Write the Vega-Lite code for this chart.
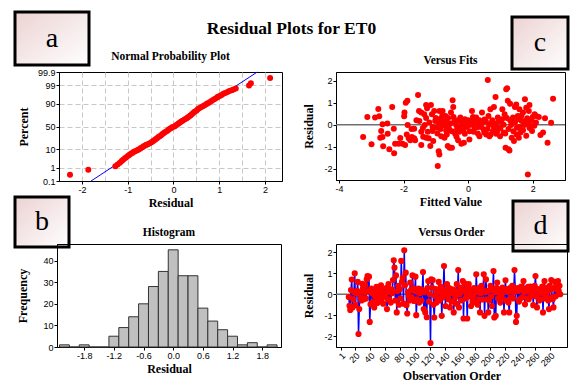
{
  "$schema": "https://vega.github.io/schema/vega-lite/v6.json",
  "padding": {"left": 13, "top": 10, "right": 0, "bottom": 0},
  "background": "white",
  "title": {"text": "Residual Plots for ET0", "font": "Liberation Serif", "fontSize": 17.5, "fontWeight": "bold", "anchor": "middle", "frame": "bounds", "offset": -27, "color": "#000"},
  "config": {
    "locale": {"number": {"decimal": ".", "thousands": ",", "grouping": [3], "currency": ["$", ""], "minus": "-"}},
    "font": "Liberation Sans",
    "view": {"stroke": "#000", "strokeWidth": 1},
    "axis": {"labelFont": "Liberation Sans", "labelFontSize": 9, "labelColor": "#000", "titleFont": "Liberation Serif", "titleFontSize": 12, "titleFontWeight": "bold", "titleColor": "#000", "domainColor": "#000", "tickColor": "#000", "tickSize": 3, "grid": false, "labelPadding": 1, "tickCount": 100, "labelOverlap": false},
    "axisX": {"titlePadding": 3},
    "axisY": {"titlePadding": 9},
    "title": {"font": "Liberation Serif", "fontSize": 11.5, "fontWeight": "bold", "color": "#000", "offset": 6}
  },
  "datasets": {
    "fitline": [{"r1": -1.80, "z1": -3.09, "r2": 1.83, "z2": 3.09}],
    "npp": [
      {"residual": -2.26, "z": -2.73}, {"residual": -1.86, "z": -2.45}, {"residual": -1.27, "z": -2.26}, {"residual": -1.22, "z": -2.15},
      {"residual": -1.17, "z": -2.05}, {"residual": -1.13, "z": -1.96}, {"residual": -1.10, "z": -1.88}, {"residual": -1.06, "z": -1.80},
      {"residual": -1.03, "z": -1.74}, {"residual": -0.99, "z": -1.66}, {"residual": -0.96, "z": -1.60}, {"residual": -0.93, "z": -1.55},
      {"residual": -0.90, "z": -1.50}, {"residual": -0.87, "z": -1.45}, {"residual": -0.84, "z": -1.40}, {"residual": -0.80, "z": -1.36},
      {"residual": -0.77, "z": -1.32}, {"residual": -0.74, "z": -1.27}, {"residual": -0.71, "z": -1.22}, {"residual": -0.68, "z": -1.17},
      {"residual": -0.65, "z": -1.12}, {"residual": -0.62, "z": -1.08}, {"residual": -0.59, "z": -1.04}, {"residual": -0.56, "z": -1.00},
      {"residual": -0.52, "z": -0.95}, {"residual": -0.48, "z": -0.90}, {"residual": -0.45, "z": -0.84}, {"residual": -0.42, "z": -0.78},
      {"residual": -0.39, "z": -0.72}, {"residual": -0.36, "z": -0.66}, {"residual": -0.33, "z": -0.60}, {"residual": -0.30, "z": -0.55},
      {"residual": -0.27, "z": -0.49}, {"residual": -0.24, "z": -0.43}, {"residual": -0.21, "z": -0.37}, {"residual": -0.18, "z": -0.31},
      {"residual": -0.14, "z": -0.25}, {"residual": -0.11, "z": -0.19}, {"residual": -0.08, "z": -0.13}, {"residual": -0.05, "z": -0.08},
      {"residual": -0.02, "z": -0.03}, {"residual": 0.02, "z": 0.0}, {"residual": 0.05, "z": 0.06}, {"residual": 0.08, "z": 0.11},
      {"residual": 0.11, "z": 0.17}, {"residual": 0.14, "z": 0.23}, {"residual": 0.17, "z": 0.28}, {"residual": 0.20, "z": 0.33},
      {"residual": 0.24, "z": 0.39}, {"residual": 0.28, "z": 0.45}, {"residual": 0.31, "z": 0.51}, {"residual": 0.34, "z": 0.57},
      {"residual": 0.37, "z": 0.63}, {"residual": 0.40, "z": 0.70}, {"residual": 0.43, "z": 0.76}, {"residual": 0.46, "z": 0.83},
      {"residual": 0.50, "z": 0.90}, {"residual": 0.53, "z": 0.98}, {"residual": 0.56, "z": 1.03}, {"residual": 0.60, "z": 1.09},
      {"residual": 0.64, "z": 1.15}, {"residual": 0.68, "z": 1.21}, {"residual": 0.72, "z": 1.27}, {"residual": 0.75, "z": 1.32},
      {"residual": 0.79, "z": 1.38}, {"residual": 0.83, "z": 1.45}, {"residual": 0.87, "z": 1.52}, {"residual": 0.91, "z": 1.58},
      {"residual": 0.95, "z": 1.64}, {"residual": 0.97, "z": 1.68}, {"residual": 1.01, "z": 1.73}, {"residual": 1.05, "z": 1.79},
      {"residual": 1.09, "z": 1.85}, {"residual": 1.13, "z": 1.90}, {"residual": 1.18, "z": 1.96}, {"residual": 1.22, "z": 2.01},
      {"residual": 1.27, "z": 2.06}, {"residual": 1.31, "z": 2.10}, {"residual": 1.36, "z": 2.15}, {"residual": 1.65, "z": 2.33},
      {"residual": 1.69, "z": 2.45}, {"residual": 2.11, "z": 2.75}
    ],
    "hist": [
      {"lo": -2.3, "hi": -2.1, "count": 1}, {"lo": -2.1, "hi": -1.9, "count": 0}, {"lo": -1.9, "hi": -1.7, "count": 1},
      {"lo": -1.7, "hi": -1.5, "count": 0}, {"lo": -1.5, "hi": -1.3, "count": 0}, {"lo": -1.3, "hi": -1.1, "count": 5},
      {"lo": -1.1, "hi": -0.9, "count": 9}, {"lo": -0.9, "hi": -0.7, "count": 14}, {"lo": -0.7, "hi": -0.5, "count": 20},
      {"lo": -0.5, "hi": -0.3, "count": 28}, {"lo": -0.3, "hi": -0.1, "count": 35}, {"lo": -0.1, "hi": 0.1, "count": 45},
      {"lo": 0.1, "hi": 0.3, "count": 33}, {"lo": 0.3, "hi": 0.5, "count": 33}, {"lo": 0.5, "hi": 0.7, "count": 18},
      {"lo": 0.7, "hi": 0.9, "count": 12}, {"lo": 0.9, "hi": 1.1, "count": 8}, {"lo": 1.1, "hi": 1.3, "count": 5},
      {"lo": 1.3, "hi": 1.5, "count": 1}, {"lo": 1.5, "hi": 1.7, "count": 2}, {"lo": 1.7, "hi": 1.9, "count": 0},
      {"lo": 1.9, "hi": 2.1, "count": 1}
    ],
    "fits": [
      {"f": -3.25, "r": -0.56}, {"f": -3.12, "r": 0.35}, {"f": -2.99, "r": -0.89}, {"f": -2.88, "r": 0.32}, {"f": -2.78, "r": 0.71},
      {"f": -2.75, "r": 0.38}, {"f": -2.72, "r": -0.59}, {"f": -2.69, "r": -0.29}, {"f": -2.65, "r": 0.02}, {"f": -2.63, "r": -0.98},
      {"f": -2.65, "r": -0.56}, {"f": -2.49, "r": -0.41}, {"f": -2.44, "r": -1.12}, {"f": -2.35, "r": 0.80}, {"f": -2.30, "r": -0.18},
      {"f": -2.29, "r": -1.30}, {"f": -2.26, "r": -0.86}, {"f": -2.15, "r": -0.86}, {"f": -2.03, "r": -0.86}, {"f": -1.98, "r": 0.38},
      {"f": -1.95, "r": -0.92}, {"f": -1.93, "r": 1.0}, {"f": -1.88, "r": 1.08}, {"f": -1.97, "r": 0.55}, {"f": -1.87, "r": -0.02},
      {"f": -1.84, "r": -0.62}, {"f": -1.79, "r": -0.71}, {"f": -1.74, "r": -0.56}, {"f": -1.67, "r": -0.18}, {"f": -1.67, "r": -0.62},
      {"f": -1.64, "r": -0.71}, {"f": -1.55, "r": 1.35}, {"f": -1.52, "r": 0.62}, {"f": -1.51, "r": 0.17}, {"f": -1.45, "r": 0.55},
      {"f": -1.45, "r": -0.92}, {"f": -1.45, "r": -0.32}, {"f": -1.39, "r": -0.55}, {"f": -1.36, "r": 0.47}, {"f": -1.34, "r": -0.02},
      {"f": -1.30, "r": 0.89}, {"f": -1.27, "r": 0.74}, {"f": -1.30, "r": -0.59}, {"f": -1.25, "r": -0.32}, {"f": -1.22, "r": -0.62},
      {"f": -1.17, "r": -0.97}, {"f": -1.15, "r": 0.89}, {"f": -1.12, "r": 0.47}, {"f": -1.10, "r": -0.29}, {"f": -1.08, "r": -0.74},
      {"f": -1.05, "r": 0.62}, {"f": -1.02, "r": 0.17}, {"f": -0.97, "r": -0.14}, {"f": -0.94, "r": -1.88}, {"f": -0.91, "r": -1.20},
      {"f": -0.89, "r": -1.35}, {"f": -0.89, "r": 0.62}, {"f": -0.85, "r": 0.27}, {"f": -0.83, "r": -0.52}, {"f": -0.79, "r": 0.62},
      {"f": -0.77, "r": -0.02}, {"f": -0.73, "r": -0.59}, {"f": -0.70, "r": 0.39}, {"f": -0.68, "r": -0.26}, {"f": -0.65, "r": 0.09},
      {"f": -0.63, "r": -0.97}, {"f": -0.60, "r": -0.14}, {"f": -0.57, "r": -1.05}, {"f": -0.53, "r": 0.55}, {"f": -0.50, "r": -1.05},
      {"f": -0.48, "r": 1.11}, {"f": -0.46, "r": 0.80}, {"f": -0.42, "r": 0.20}, {"f": -0.40, "r": -0.41}, {"f": -0.37, "r": -0.02},
      {"f": -0.34, "r": -0.21}, {"f": -0.31, "r": -0.71}, {"f": -0.27, "r": -0.32}, {"f": -0.24, "r": 0.32}, {"f": -0.21, "r": -0.86},
      {"f": -0.17, "r": -0.02}, {"f": -0.13, "r": -0.82}, {"f": -0.10, "r": -0.41}, {"f": -0.06, "r": 0.09}, {"f": -0.01, "r": -0.06},
      {"f": 0.04, "r": -0.67}, {"f": 0.09, "r": 0.17}, {"f": 0.12, "r": 0.62}, {"f": 0.17, "r": -0.32}, {"f": 0.20, "r": 0.09},
      {"f": 0.25, "r": 0.32}, {"f": 0.30, "r": -0.11}, {"f": 0.35, "r": -0.52}, {"f": 0.40, "r": 0.09}, {"f": 0.43, "r": 0.55},
      {"f": 0.48, "r": -0.21}, {"f": 0.51, "r": 0.24}, {"f": 0.56, "r": -0.44}, {"f": 0.61, "r": 2.03}, {"f": 0.63, "r": 0.39},
      {"f": 0.66, "r": -0.52}, {"f": 0.69, "r": 0.70}, {"f": 0.72, "r": 0.05}, {"f": 0.77, "r": -0.29}, {"f": 0.80, "r": 0.80},
      {"f": 0.83, "r": -0.06}, {"f": 0.85, "r": 1.26}, {"f": 0.87, "r": -0.41}, {"f": 0.92, "r": 0.32}, {"f": 0.95, "r": -0.14},
      {"f": 0.99, "r": -0.52}, {"f": 1.02, "r": 0.14}, {"f": 1.06, "r": 0.70}, {"f": 1.10, "r": -0.36}, {"f": 1.13, "r": 0.47},
      {"f": 1.16, "r": -1.05}, {"f": 1.18, "r": 1.61}, {"f": 1.21, "r": 1.65}, {"f": 1.23, "r": 1.08}, {"f": 1.25, "r": -1.12},
      {"f": 1.28, "r": -1.17}, {"f": 1.30, "r": 0.95}, {"f": 1.33, "r": -0.02}, {"f": 1.35, "r": -0.59}, {"f": 1.39, "r": 0.32},
      {"f": 1.42, "r": -0.74}, {"f": 1.45, "r": 0.80}, {"f": 1.49, "r": 0.92}, {"f": 1.51, "r": -0.14}, {"f": 1.54, "r": 0.39},
      {"f": 1.57, "r": -0.59}, {"f": 1.59, "r": 0.70}, {"f": 1.62, "r": -0.36}, {"f": 1.66, "r": 0.17}, {"f": 1.70, "r": 0.55},
      {"f": 1.74, "r": -0.02}, {"f": 1.76, "r": 1.15}, {"f": 1.80, "r": 0.77}, {"f": 1.83, "r": 0.29}, {"f": 1.85, "r": -2.26},
      {"f": 1.88, "r": 0.62}, {"f": 1.90, "r": 0.89}, {"f": 1.95, "r": -0.06}, {"f": 1.98, "r": -0.29}, {"f": 2.00, "r": 0.35},
      {"f": 2.06, "r": 0.47}, {"f": 2.11, "r": 0.39}, {"f": 2.19, "r": 0.35}, {"f": 2.24, "r": -0.47}, {"f": 2.32, "r": -0.36},
      {"f": 2.38, "r": 0.29}, {"f": 2.46, "r": -0.82}, {"f": 2.57, "r": 0.09}, {"f": 2.63, "r": 1.18},
      {"f": -1.2, "r": 0.1}, {"f": -1.1, "r": -0.1}, {"f": -1.0, "r": 0.3}, {"f": -0.95, "r": -0.4}, {"f": -0.9, "r": 0.05},
      {"f": -0.85, "r": -0.2}, {"f": -0.8, "r": 0.4}, {"f": -0.75, "r": 0.15}, {"f": -0.7, "r": -0.05}, {"f": -0.66, "r": -0.45},
      {"f": -0.62, "r": 0.3}, {"f": -0.58, "r": -0.25}, {"f": -0.55, "r": 0.05}, {"f": -0.5, "r": -0.3}, {"f": -0.45, "r": 0.35},
      {"f": -0.4, "r": 0.1}, {"f": -0.36, "r": -0.55}, {"f": -0.3, "r": 0.2}, {"f": -0.25, "r": -0.1}, {"f": -0.2, "r": 0.1},
      {"f": -0.15, "r": -0.25}, {"f": -0.1, "r": 0.25}, {"f": -0.05, "r": -0.1}, {"f": 0.0, "r": 0.2}, {"f": 0.05, "r": -0.3},
      {"f": 0.1, "r": 0.0}, {"f": 0.15, "r": 0.35}, {"f": 0.2, "r": -0.15}, {"f": 0.25, "r": 0.05}, {"f": 0.3, "r": -0.4},
      {"f": 0.35, "r": 0.2}, {"f": 0.4, "r": -0.1}, {"f": 0.45, "r": 0.1}, {"f": 0.5, "r": -0.35}, {"f": 0.55, "r": 0.15},
      {"f": 0.6, "r": -0.2}, {"f": 0.65, "r": 0.0}, {"f": 0.7, "r": -0.45}, {"f": 0.75, "r": 0.2}, {"f": 0.8, "r": -0.1},
      {"f": 0.85, "r": 0.05}, {"f": 0.9, "r": -0.3}, {"f": 0.95, "r": 0.15}, {"f": 1.0, "r": -0.15}, {"f": 1.05, "r": 0.25},
      {"f": 1.1, "r": 0.0}, {"f": 1.15, "r": -0.4}, {"f": 1.2, "r": 0.3}, {"f": 1.25, "r": -0.2}, {"f": 1.3, "r": 0.2},
      {"f": 1.35, "r": 0.05}, {"f": 1.4, "r": -0.3}, {"f": 1.45, "r": 0.1}, {"f": 1.5, "r": -0.45}, {"f": 1.55, "r": 0.25},
      {"f": 1.6, "r": -0.1}, {"f": 1.65, "r": 0.4}, {"f": 1.7, "r": -0.25}, {"f": 1.75, "r": 0.15}, {"f": 1.8, "r": -0.5},
      {"f": 1.85, "r": 0.05}, {"f": 1.9, "r": -0.15}, {"f": 1.95, "r": 0.2}, {"f": 2.05, "r": -0.05}, {"f": 2.1, "r": 0.1},
      {"f": -1.9, "r": -0.45}, {"f": -1.6, "r": 0.2}, {"f": -1.4, "r": -0.15}, {"f": -1.3, "r": 0.3}, {"f": -2.1, "r": -0.6},
      {"f": -2.5, "r": 0.05}, {"f": -1.75, "r": -0.2}
    ],
    "order": [
      {"o": 12, "r": -0.13}, {"o": 13, "r": -0.55}, {"o": 14, "r": -0.75}, {"o": 15, "r": 0.2}, {"o": 16, "r": 0.7},
      {"o": 17, "r": -0.63}, {"o": 18, "r": -0.24}, {"o": 19, "r": 0.1}, {"o": 20, "r": 1.0}, {"o": 21, "r": -0.52},
      {"o": 22, "r": 0.05}, {"o": 23, "r": 0.16}, {"o": 24, "r": 0.59}, {"o": 25, "r": -1.9}, {"o": 26, "r": -0.71},
      {"o": 27, "r": 0.12}, {"o": 28, "r": -0.16}, {"o": 29, "r": -0.3}, {"o": 30, "r": 0.5}, {"o": 31, "r": 0.3},
      {"o": 32, "r": -0.24}, {"o": 33, "r": 0.08}, {"o": 34, "r": 0.43}, {"o": 35, "r": -0.2}, {"o": 36, "r": 0.71},
      {"o": 37, "r": 0.87}, {"o": 38, "r": 0.15}, {"o": 39, "r": 0.84}, {"o": 40, "r": -1.32}, {"o": 41, "r": -0.48},
      {"o": 42, "r": 0.27}, {"o": 43, "r": 0.05}, {"o": 44, "r": -0.37}, {"o": 45, "r": 0.18}, {"o": 46, "r": -0.63},
      {"o": 47, "r": -0.1}, {"o": 48, "r": 0.08}, {"o": 49, "r": 0.35}, {"o": 50, "r": -0.42}, {"o": 51, "r": -0.2},
      {"o": 52, "r": 0.22}, {"o": 53, "r": -0.08}, {"o": 54, "r": -0.35}, {"o": 55, "r": 0.43}, {"o": 56, "r": 0.1},
      {"o": 57, "r": -0.16}, {"o": 58, "r": -0.45}, {"o": 59, "r": 0.2}, {"o": 60, "r": -0.05}, {"o": 61, "r": 0.0},
      {"o": 62, "r": 0.3}, {"o": 63, "r": -0.71}, {"o": 64, "r": -0.25}, {"o": 65, "r": 0.48}, {"o": 66, "r": -0.24},
      {"o": 67, "r": 0.1}, {"o": 68, "r": -0.4}, {"o": 69, "r": 0.24}, {"o": 70, "r": 0.05}, {"o": 71, "r": 0.68},
      {"o": 72, "r": 1.62}, {"o": 73, "r": 1.27}, {"o": 74, "r": -0.3}, {"o": 75, "r": 0.9}, {"o": 76, "r": -0.87},
      {"o": 77, "r": 0.15}, {"o": 78, "r": 0.4}, {"o": 79, "r": -0.5}, {"o": 80, "r": 0.24}, {"o": 81, "r": -0.2},
      {"o": 82, "r": 1.59}, {"o": 83, "r": 0.6}, {"o": 84, "r": 0.79}, {"o": 85, "r": -0.45}, {"o": 86, "r": 2.1},
      {"o": 87, "r": 0.43}, {"o": 88, "r": 1.03}, {"o": 89, "r": -0.52}, {"o": 90, "r": -0.92}, {"o": 91, "r": 0.1},
      {"o": 92, "r": -0.08}, {"o": 93, "r": -0.3}, {"o": 94, "r": 0.56}, {"o": 95, "r": 0.2}, {"o": 96, "r": -0.15},
      {"o": 97, "r": 0.9}, {"o": 98, "r": 0.3}, {"o": 99, "r": -0.32}, {"o": 100, "r": 0.15}, {"o": 101, "r": 0.84},
      {"o": 102, "r": -1.0}, {"o": 103, "r": -0.24}, {"o": 104, "r": 0.1}, {"o": 105, "r": 0.27}, {"o": 106, "r": -0.4},
      {"o": 107, "r": 0.05}, {"o": 108, "r": 0.24}, {"o": 109, "r": -0.3}, {"o": 110, "r": 0.2}, {"o": 111, "r": 1.06},
      {"o": 112, "r": -0.71}, {"o": 113, "r": 0.1}, {"o": 114, "r": -0.87}, {"o": 115, "r": 0.16}, {"o": 116, "r": -1.1},
      {"o": 117, "r": 0.3}, {"o": 118, "r": 0.63}, {"o": 119, "r": -0.35}, {"o": 120, "r": 0.0}, {"o": 121, "r": -2.33},
      {"o": 122, "r": 0.71}, {"o": 123, "r": 0.32}, {"o": 124, "r": 0.68}, {"o": 125, "r": -0.5}, {"o": 126, "r": -1.11},
      {"o": 127, "r": -0.08}, {"o": 128, "r": 0.25}, {"o": 129, "r": -0.4}, {"o": 130, "r": 0.1}, {"o": 131, "r": -0.2},
      {"o": 132, "r": 0.59}, {"o": 133, "r": -0.3}, {"o": 134, "r": 0.08}, {"o": 135, "r": 0.35}, {"o": 136, "r": -1.03},
      {"o": 137, "r": -0.15}, {"o": 138, "r": 0.2}, {"o": 139, "r": 1.35}, {"o": 140, "r": 0.1}, {"o": 141, "r": -0.56},
      {"o": 142, "r": 0.2}, {"o": 143, "r": 0.48}, {"o": 144, "r": -0.1}, {"o": 145, "r": -0.24}, {"o": 146, "r": 0.3},
      {"o": 147, "r": -0.63}, {"o": 148, "r": 0.05}, {"o": 149, "r": -0.35}, {"o": 150, "r": 0.24}, {"o": 151, "r": 0.1},
      {"o": 152, "r": -0.87}, {"o": 153, "r": 0.2}, {"o": 154, "r": -0.16}, {"o": 155, "r": -0.45}, {"o": 156, "r": 0.48},
      {"o": 157, "r": 0.1}, {"o": 158, "r": 1.16}, {"o": 159, "r": -0.63}, {"o": 160, "r": 0.0}, {"o": 161, "r": 0.32},
      {"o": 162, "r": -0.3}, {"o": 163, "r": 0.15}, {"o": 164, "r": 0.63}, {"o": 165, "r": -1.16}, {"o": 166, "r": 0.2},
      {"o": 167, "r": 0.51}, {"o": 168, "r": -0.2}, {"o": 169, "r": 0.0}, {"o": 170, "r": -1.16}, {"o": 171, "r": 0.35},
      {"o": 172, "r": 0.48}, {"o": 173, "r": -0.1}, {"o": 174, "r": 0.1}, {"o": 175, "r": -0.56}, {"o": 176, "r": 0.2},
      {"o": 177, "r": -0.35}, {"o": 178, "r": -0.08}, {"o": 179, "r": 0.3}, {"o": 180, "r": 0.24}, {"o": 181, "r": -0.4},
      {"o": 182, "r": 0.95}, {"o": 183, "r": 0.1}, {"o": 184, "r": -0.5}, {"o": 185, "r": -0.24}, {"o": 186, "r": 0.3},
      {"o": 187, "r": -0.87}, {"o": 188, "r": 0.05}, {"o": 189, "r": 0.4}, {"o": 190, "r": -0.25}, {"o": 191, "r": 0.2},
      {"o": 192, "r": 0.95}, {"o": 193, "r": -1.03}, {"o": 194, "r": 0.1}, {"o": 195, "r": 0.71}, {"o": 196, "r": -0.24},
      {"o": 197, "r": 0.15}, {"o": 198, "r": -0.87}, {"o": 199, "r": -0.3}, {"o": 200, "r": 0.2}, {"o": 201, "r": 0.4},
      {"o": 202, "r": -0.1}, {"o": 203, "r": -0.56}, {"o": 204, "r": 0.25}, {"o": 205, "r": 1.11}, {"o": 206, "r": -1.11},
      {"o": 207, "r": 0.1}, {"o": 208, "r": -1.03}, {"o": 209, "r": 0.3}, {"o": 210, "r": 0.56}, {"o": 211, "r": -0.2},
      {"o": 212, "r": 0.24}, {"o": 213, "r": 0.05}, {"o": 214, "r": -0.4}, {"o": 215, "r": 0.2}, {"o": 216, "r": -0.15},
      {"o": 217, "r": 0.32}, {"o": 218, "r": 0.1}, {"o": 219, "r": -0.87}, {"o": 220, "r": 0.2}, {"o": 221, "r": 0.67},
      {"o": 222, "r": -0.3}, {"o": 223, "r": 0.25}, {"o": 224, "r": 0.11}, {"o": 225, "r": -0.4}, {"o": 226, "r": -0.87},
      {"o": 227, "r": 0.3}, {"o": 228, "r": -0.16}, {"o": 229, "r": 0.15}, {"o": 230, "r": 0.4}, {"o": 231, "r": -0.2},
      {"o": 232, "r": 0.1}, {"o": 233, "r": 1.16}, {"o": 234, "r": 0.2}, {"o": 235, "r": -1.32}, {"o": 236, "r": -1.03},
      {"o": 237, "r": 0.3}, {"o": 238, "r": 0.16}, {"o": 239, "r": -0.35}, {"o": 240, "r": -0.24}, {"o": 241, "r": 0.25},
      {"o": 242, "r": 0.37}, {"o": 243, "r": -0.15}, {"o": 244, "r": 0.2}, {"o": 245, "r": 0.63}, {"o": 246, "r": 0.1},
      {"o": 247, "r": -0.48}, {"o": 248, "r": 0.15}, {"o": 249, "r": 0.27}, {"o": 250, "r": -0.2}, {"o": 251, "r": 0.35},
      {"o": 252, "r": -0.24}, {"o": 253, "r": 0.1}, {"o": 254, "r": 0.37}, {"o": 255, "r": 0.2}, {"o": 256, "r": -0.08},
      {"o": 257, "r": 0.3}, {"o": 258, "r": -0.52}, {"o": 259, "r": 0.15}, {"o": 260, "r": 0.4}, {"o": 261, "r": 0.87},
      {"o": 262, "r": -0.1}, {"o": 263, "r": -0.63}, {"o": 264, "r": 0.25}, {"o": 265, "r": 0.21}, {"o": 266, "r": -0.3},
      {"o": 267, "r": 0.1}, {"o": 268, "r": -0.24}, {"o": 269, "r": 0.05}, {"o": 270, "r": 0.37}, {"o": 271, "r": -0.87},
      {"o": 272, "r": 0.2}, {"o": 273, "r": 0.63}, {"o": 274, "r": -0.2}, {"o": 275, "r": -0.08}, {"o": 276, "r": 0.1},
      {"o": 277, "r": 0.32}, {"o": 278, "r": -0.3}, {"o": 279, "r": -0.71}, {"o": 280, "r": 0.4}, {"o": 281, "r": 0.2},
      {"o": 282, "r": 0.68}, {"o": 283, "r": -0.15}, {"o": 284, "r": -0.24}, {"o": 285, "r": -0.63}, {"o": 286, "r": 0.3},
      {"o": 287, "r": 0.59}, {"o": 288, "r": -0.1}, {"o": 289, "r": 0.24}, {"o": 290, "r": 0.5}, {"o": 291, "r": 0.63},
      {"o": 292, "r": 0.16}, {"o": 293, "r": 0.4}, {"o": 294, "r": 0.0}
    ]
  },
  "concat": [
    {
      "concat": [
        {
          "concat": [
            {
              "width": 74, "height": 53,
              "data": {"values": [{"letter": "a"}]},
              "mark": {"type": "text", "font": "Liberation Serif", "fontSize": 28, "baseline": "middle", "color": "#000"},
              "encoding": {"text": {"field": "letter"}},
              "view": {"stroke": "#000", "strokeWidth": 3, "fill": {"gradient": "linear", "x1": 0, "y1": 0, "x2": 1, "y2": 1, "stops": [{"offset": 0, "color": "#ecd2d2"}, {"offset": 1, "color": "#ffffff"}]}}
            },
            {
              "concat": [
                {"width": 1, "height": 1, "data": {"values": [{}]}, "mark": {"type": "rect", "opacity": 0}, "view": {"stroke": null}},
                {
                  "width": 56, "height": 52,
                  "data": {"values": [{"letter": "c"}]},
                  "mark": {"type": "text", "font": "Liberation Serif", "fontSize": 28, "baseline": "middle", "color": "#000"},
                  "encoding": {"text": {"field": "letter"}},
                  "view": {"stroke": "#000", "strokeWidth": 3, "fill": {"gradient": "linear", "x1": 0, "y1": 0, "x2": 1, "y2": 1, "stops": [{"offset": 0, "color": "#ecd2d2"}, {"offset": 1, "color": "#ffffff"}]}}
                }
              ],
              "columns": 1,
              "align": "none",
              "spacing": 2
            }
          ],
          "columns": 2,
          "align": "none",
          "spacing": 419
        },
        {
          "concat": [
            {"width": 1, "height": 1, "data": {"values": [{}]}, "mark": {"type": "rect", "opacity": 0}, "view": {"stroke": null}},
            {
              "concat": [
                {
                  "width": 223, "height": 109,
                  "title": {"text": "Normal Probability Plot"},
                  "layer": [
                    {
                      "data": {"name": "fitline"},
                      "mark": {"type": "rule", "color": "#0000ff", "strokeWidth": 1},
                      "encoding": {
                        "x": {"field": "r1", "type": "quantitative", "title": "Residual",
                          "scale": {"domain": [-2.5, 2.37], "nice": false, "zero": false},
                          "axis": {"values": [-2.5, -2, -1.5, -1, -0.5, 0, 0.5, 1, 1.5, 2], "grid": true, "gridDash": [5, 3], "gridColor": "#c8c8c8",
                            "gridOpacity": {"condition": {"test": "datum.value < -2.4", "value": 0}, "value": 1},
                            "labelExpr": "datum.value == -2 ? '-2' : datum.value == -1 ? '-1' : datum.value == 0 ? '0' : datum.value == 1 ? '1' : datum.value == 2 ? '2' : ''",
                            "tickOpacity": {"condition": {"test": "datum.value % 1 != 0", "value": 0}, "value": 1}}},
                        "x2": {"field": "r2"},
                        "y": {"field": "z1", "type": "quantitative", "title": "Percent",
                          "scale": {"domain": [-3.09, 3.09], "nice": false, "zero": false},
                          "axis": {"values": [-3.09, -2.326, -1.2816, 0, 1.2816, 2.326, 3.09], "grid": true, "gridDash": [5, 3], "gridColor": "#c8c8c8", "titlePadding": 7,
                            "gridOpacity": {"condition": {"test": "abs(datum.value) > 3", "value": 0}, "value": 1},
                            "labelExpr": "datum.value < -3 ? '0.1' : datum.value < -2 ? '1' : datum.value < -1 ? '10' : datum.value < 1 ? '50' : datum.value < 2 ? '90' : datum.value < 3 ? '99' : '99.9'"}},
                        "y2": {"field": "z2"}
                      }
                    },
                    {
                      "data": {"name": "npp"},
                      "mark": {"type": "circle", "color": "#ff0000", "opacity": 1, "size": 36},
                      "encoding": {
                        "x": {"field": "residual", "type": "quantitative", "title": "Residual"},
                        "y": {"field": "z", "type": "quantitative", "title": "Percent"}
                      }
                    }
                  ]
                },
                {
                  "width": 229, "height": 108,
                  "title": {"text": "Versus Fits"},
                  "layer": [
                    {
                      "data": {"values": [{}]},
                      "mark": {"type": "rule", "color": "#707070", "strokeWidth": 1.5},
                      "encoding": {"y": {"datum": 0, "type": "quantitative"}}
                    },
                    {
                      "data": {"name": "fits"},
                      "mark": {"type": "circle", "color": "#ff0000", "opacity": 1, "size": 36},
                      "encoding": {
                        "x": {"field": "f", "type": "quantitative", "title": "Fitted Value",
                          "scale": {"domain": [-4.09, 3.0], "nice": false, "zero": false},
                          "axis": {"values": [-4, -2, 0, 2], "format": "d"}},
                        "y": {"field": "r", "type": "quantitative", "title": "Residual",
                          "scale": {"domain": [-2.51, 2.39], "nice": false, "zero": false},
                          "axis": {"values": [-2, -1, 0, 1, 2], "format": "d", "titlePadding": 8}}
                      }
                    }
                  ]
                }
              ],
              "columns": 2,
              "align": "none",
              "spacing": 19
            }
          ],
          "columns": 2,
          "align": "none",
          "spacing": 0
        }
      ],
      "columns": 1,
      "align": "none",
      "spacing": -21
    },
    {
      "concat": [
        {
          "concat": [
            {
              "width": 54, "height": 50,
              "data": {"values": [{"letter": "b"}]},
              "mark": {"type": "text", "font": "Liberation Serif", "fontSize": 28, "baseline": "middle", "color": "#000"},
              "encoding": {"text": {"field": "letter"}},
              "view": {"stroke": "#000", "strokeWidth": 3, "fill": {"gradient": "linear", "x1": 0, "y1": 0, "x2": 1, "y2": 1, "stops": [{"offset": 0, "color": "#ecd2d2"}, {"offset": 1, "color": "#ffffff"}]}}
            },
            {
              "concat": [
                {"width": 1, "height": 1, "data": {"values": [{}]}, "mark": {"type": "rect", "opacity": 0}, "view": {"stroke": null}},
                {
                  "width": 55, "height": 50,
                  "data": {"values": [{"letter": "d"}]},
                  "mark": {"type": "text", "font": "Liberation Serif", "fontSize": 28, "baseline": "middle", "color": "#000"},
                  "encoding": {"text": {"field": "letter"}},
                  "view": {"stroke": "#000", "strokeWidth": 3, "fill": {"gradient": "linear", "x1": 0, "y1": 0, "x2": 1, "y2": 1, "stops": [{"offset": 0, "color": "#ecd2d2"}, {"offset": 1, "color": "#ffffff"}]}}
                }
              ],
              "columns": 1,
              "align": "none",
              "spacing": 1
            }
          ],
          "columns": 2,
          "align": "none",
          "spacing": 440
        },
        {
          "concat": [
            {"width": 1, "height": 1, "data": {"values": [{}]}, "mark": {"type": "rect", "opacity": 0}, "view": {"stroke": null}},
            {
              "concat": [
                {
                  "width": 224, "height": 103,
                  "title": {"text": "Histogram"},
                  "data": {"name": "hist"},
                  "mark": {"type": "bar", "fill": "#c0c0c0", "stroke": "#333333", "strokeWidth": 1},
                  "encoding": {
                    "x": {"field": "lo", "type": "quantitative", "title": "Residual",
                      "scale": {"domain": [-2.35, 2.18], "nice": false, "zero": false},
                      "axis": {"values": [-1.8, -1.2, -0.6, 0, 0.6, 1.2, 1.8], "format": ".1f"}},
                    "x2": {"field": "hi"},
                    "y": {"field": "count", "type": "quantitative", "title": "Frequency",
                      "scale": {"domain": [0, 47.7], "nice": false},
                      "axis": {"values": [0, 10, 20, 30, 40], "format": "d", "titlePadding": 13}},
                    "y2": {"datum": 0}
                  }
                },
                {
                  "width": 231, "height": 103,
                  "title": {"text": "Versus Order"},
                  "layer": [
                    {
                      "data": {"values": [{}]},
                      "mark": {"type": "rule", "color": "#707070", "strokeWidth": 1.5},
                      "encoding": {"y": {"datum": 0, "type": "quantitative"}}
                    },
                    {
                      "data": {"name": "order"},
                      "mark": {"type": "line", "color": "#0000ff", "strokeWidth": 1.5},
                      "encoding": {
                        "x": {"field": "o", "type": "quantitative", "title": "Observation Order",
                          "scale": {"domain": [-5, 303], "nice": false, "zero": false},
                          "axis": {"values": [1, 20, 40, 60, 80, 100, 120, 140, 160, 180, 200, 220, 240, 260, 280], "format": "d", "labelAngle": -45}},
                        "y": {"field": "r", "type": "quantitative", "title": "Residual",
                          "scale": {"domain": [-2.52, 2.4], "nice": false, "zero": false},
                          "axis": {"values": [-2, -1, 0, 1, 2], "format": "d", "titlePadding": 8}}
                      }
                    },
                    {
                      "data": {"name": "order"},
                      "mark": {"type": "circle", "color": "#ff0000", "opacity": 1, "size": 38},
                      "encoding": {
                        "x": {"field": "o", "type": "quantitative", "title": "Observation Order"},
                        "y": {"field": "r", "type": "quantitative", "title": "Residual"}
                      }
                    }
                  ]
                }
              ],
              "columns": 2,
              "align": "none",
              "spacing": 20
            }
          ],
          "columns": 2,
          "align": "none",
          "spacing": 0
        }
      ],
      "columns": 1,
      "align": "none",
      "spacing": -27
    }
  ],
  "columns": 1,
  "align": "none",
  "spacing": -14
}
